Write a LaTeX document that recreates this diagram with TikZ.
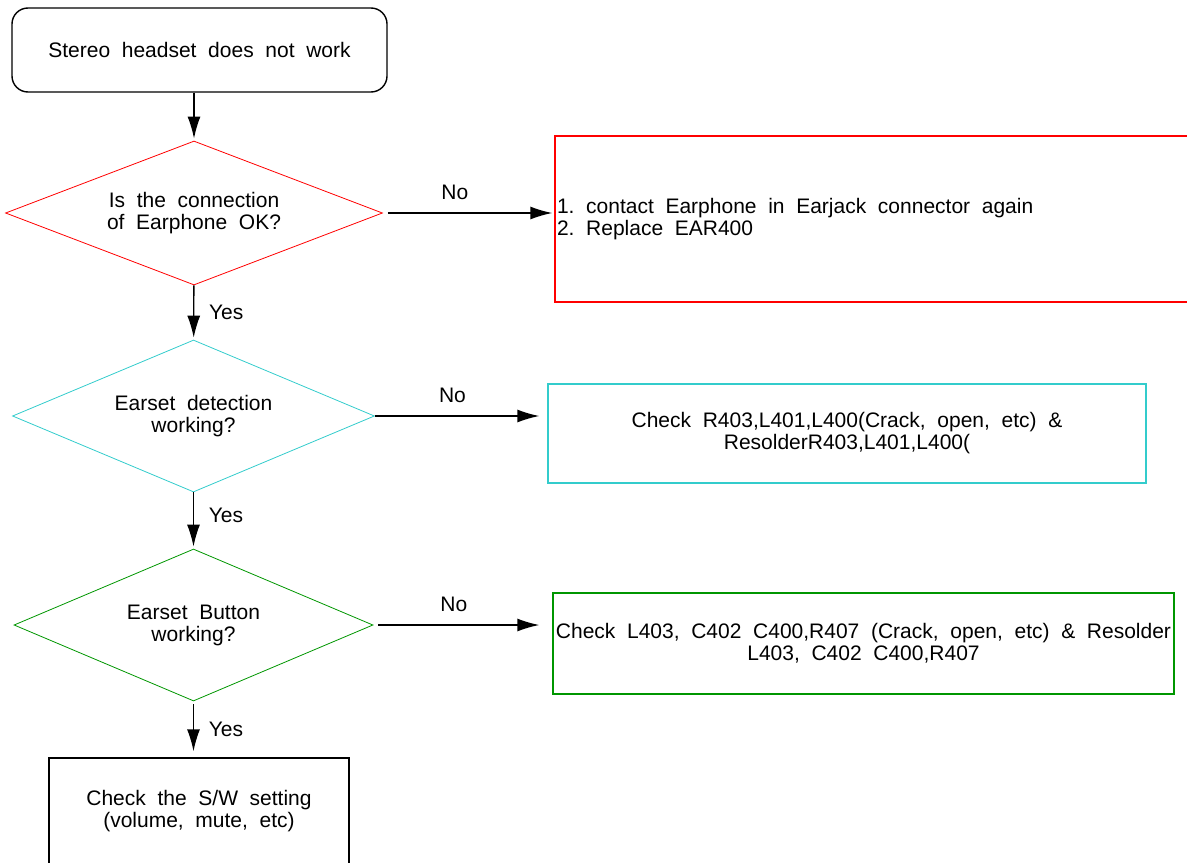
\documentclass[tikz,border=0pt]{standalone}
\usepackage{fontspec}
\setmainfont{Liberation Sans}[WordSpace=2]
\usepackage{xcolor}
\usetikzlibrary{shapes.geometric,arrows.meta}

\definecolor{chkred}{RGB}{255,0,0}
\definecolor{chkcyan}{RGB}{51,204,204}
\definecolor{chkgreen}{RGB}{0,150,0}

\begin{document}
\begin{tikzpicture}[x=0.5pt, y=-0.5pt, -{Latex[length=11pt,width=6.5pt]}, shorten >=1pt, line width=0.7pt, font=\fontsize{10.5}{11}\selectfont]
\tikzstyle{start}=[draw, rounded corners=8pt, minimum width=187.5pt, minimum height=42pt]
\tikzstyle{decision}=[diamond, draw, line width=0.4pt, inner sep=0pt, shape aspect=2.5, align=center]
\tikzstyle{action}=[draw, rectangle, inner sep=1pt, align=center]

\useasboundingbox (0,0) rectangle (1187,862);

\node [start] (s0) at (199.5,50) {Stereo headset does not work};
\node [decision, draw=chkred, minimum width=188.5pt, minimum height=72pt] (d1) at (194,213) {Is the connection\\of Earphone OK?};
\node [decision, draw=chkcyan, minimum width=181pt, minimum height=76pt] (d2) at (193.5,416) {Earset detection\\working?};
\node [decision, draw=chkgreen, minimum width=179.5pt, minimum height=76pt] (d3) at (193.5,625) {Earset Button\\working?};

\node [action, draw=chkred, minimum width=322.5pt, minimum height=83pt,
       label={[anchor=west, align=left, inner sep=1pt]west:1.\ contact Earphone in Earjack connector again\\2.\ Replace EAR400}] (a1) at (877.5,219) {};
\node [action, draw=chkcyan, minimum width=299pt, minimum height=49.5pt] (a2) at (847,433.5) {Check R403,L401,L400(Crack, open, etc) \&\\ResolderR403,L401,L400(};
\node [action, draw=chkgreen, minimum width=310.5pt, minimum height=50.5pt] (a3) at (863.5,643.5) {Check L403, C402 C400,R407 (Crack, open, etc) \& Resolder\\L403, C402 C400,R407};
\node [action, minimum width=150pt, minimum height=53pt] (a4) at (199,811) {Check the S/W setting\\(volume, mute, etc)};

\path
(d1.north |- s0.south) edge (d1)

(d1) edge node [right=4pt] {Yes} (d2)
(d1.east) edge [shorten <=2.5pt] node [above=3pt, pos=0.42] {No} (d1.east -| a1.west)

(d2) edge node [right=4pt, pos=0.4] {Yes} (d3)
(d2.east) edge [shorten >=4pt] node [above=3pt, pos=0.45] {No} (d2.east -| a2.west)

(d3.south) edge [shorten <=1.5pt, shorten >=3pt] node [right=4pt] {Yes} (d3.south |- a4.north)
(d3.east) edge [shorten <=2.5pt, shorten >=6.5pt] node [above=3pt, pos=0.45] {No} (d3.east -| a3.west);
\end{tikzpicture}
\end{document}
